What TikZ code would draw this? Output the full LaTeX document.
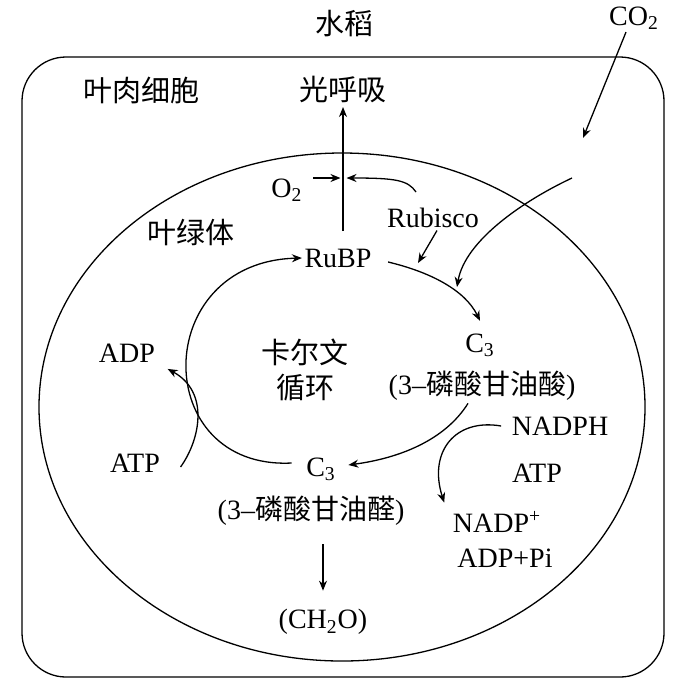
\documentclass[tikz,border=0pt]{standalone}
\usepackage{fontspec}
\setmainfont{Liberation Serif}
\newfontfamily\cjk{Noto Sans CJK SC}
\usetikzlibrary{arrows.meta}
\begin{document}
\begin{tikzpicture}[x=0.5pt, y=-0.5pt, line width=0.65pt,
        txt/.style={inner sep=1pt, font=\fontsize{14}{17}\selectfont},
        zh/.style={inner sep=1pt, align=center,
          font=\fontsize{14.5}{17.5}\selectfont\cjk},
        arr/.style={-{Stealth[length=5pt, width=4pt]}}
      ]

      \useasboundingbox (0,0) rectangle (689,687);
      \draw[rounded corners=22pt] (22,57) rectangle (664,677);
      \draw (342,407) ellipse [x radius=151.5pt, y radius=127pt];

      \node[zh]  (rice)   at (344, 24) {水稻};
      \node[txt] (co2)    at (634, 18) {CO\textsubscript{2}};
      \node[zh]  (cell)   at (141, 90) {叶肉细胞};
      \node[zh]  (photo)  at (343, 89) {光呼吸};
      \node[zh]  (chloro) at (191,232) {叶绿体};
      \node[txt] (o2)     at (287,190) {O\textsubscript{2}};
      \node[txt] (rubisco) at (433,218) {Rubisco};
      \node[txt] (rubp)   at (338,258) {RuBP};
      \node[txt] (c3a)    at (480,345) {C\textsubscript{3}};
      \node[txt] (pga)    at (482,386) {(3–{\cjk 磷酸甘油酸})};
      \node[txt] (nadph)  at (560,426) {NADPH};
      \node[txt] (atpr)   at (537,473) {ATP};
      \node[txt] (nadp)   at (497,522) {NADP\textsuperscript{+}};
      \node[txt] (adppi)  at (505,558) {ADP+Pi};
      \node[txt] (c3b)    at (321,469) {C\textsubscript{3}};
      \node[txt] (gap)    at (311,511) {(3–{\cjk 磷酸甘油醛})};
      \node[txt] (ch2o)   at (323,622) {(CH\textsubscript{2}O)};
      \node[zh]  (calvin) at (305,370) {卡尔文\\循环};
      \node[txt] (adpl)   at (127,353) {ADP};
      \node[txt] (atpl)   at (135,463) {ATP};

      \coordinate (meet)   at (343.5,178);
      \coordinate (rubin)  at (416,192);
      \coordinate (rubend) at (418,263);
      \coordinate (co2end) at (583,138);
      \coordinate (co2in)  at (572,178);
      \coordinate (fixend) at (457,287);

      \draw[arr, shorten <=7.5pt, shorten >=1pt] (photo.south |- rubp.north) -- (photo.south);
      \draw[arr, shorten >=1.5pt] ([xshift=4pt, yshift=6pt]o2.east) -- (meet);
      \draw[arr, shorten >=1.5pt] (rubin) .. controls (408,180) and (395,178) .. (meet);
      \draw[arr] ([xshift=2pt]rubisco.south) -- (rubend);
      \draw[arr] ([xshift=-4pt]co2.south) -- (co2end);
      \draw[arr] (co2in) .. controls (525,200) and (465,240) .. (fixend);
      \draw[arr] ([xshift=7pt, yshift=-2pt]rubp.east) .. controls (430,272) and (465,290) .. ([yshift=5pt]c3a.north);
      \draw[arr] ([xshift=-7pt]pga.south) .. controls (445,440) and (400,458) .. ([xshift=5pt, yshift=2pt]c3b.east);
      \draw[arr] ([xshift=-4pt]nadph.west) .. controls (455,418) and (428,452) .. ([xshift=-3pt, yshift=3pt]nadp.north west);
      \draw[arr] ([xshift=-6pt, yshift=3pt]c3b.west) .. controls (150,470) and (150,262) .. (rubp.west);
      \draw[arr] ([xshift=9pt, yshift=-2pt]atpl.east) .. controls (200,440) and (210,392) .. ([xshift=5pt, yshift=-2pt]adpl.south east);
      \draw[arr, shorten <=8pt, shorten >=8pt] (ch2o.north |- gap.south) -- (ch2o.north);

    \end{tikzpicture}
\end{document}
